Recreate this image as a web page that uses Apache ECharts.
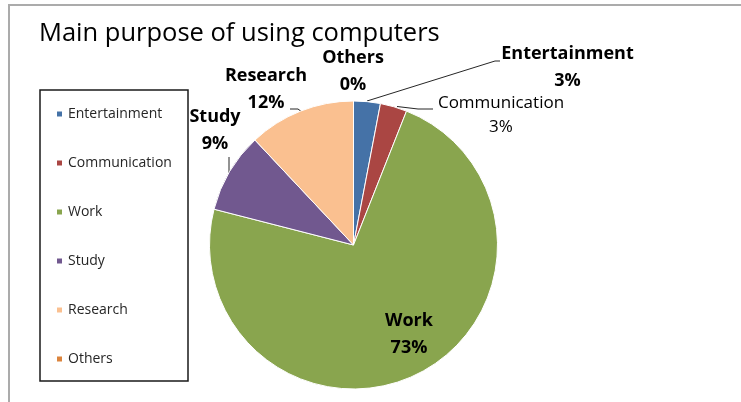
<!DOCTYPE html>
<html>
<head>
<meta charset="utf-8">
<script src="https://cdn.jsdelivr.net/npm/echarts@6/dist/echarts.min.js"></script>
<style>
html,body{margin:0;padding:0;background:#fff;}
#chart{width:741px;height:402px;}
</style>
</head>
<body>
<div id="chart"></div>
<script>
// ---- data ----
var categories = ['Entertainment', 'Communication', 'Work', 'Study', 'Research', 'Others'];
var shares = [3, 3, 73, 9, 12, 0];
var colors = ['#4572A7', '#AA4643', '#89A54E', '#71588F', '#FAC090', '#DB843D'];
var titleText = 'Main purpose of using computers';

// ---- label placement (layout only) ----
var labelPos = {
  'Entertainment': { x: 567.5, y: 67.5, line: [[367, 101], [495, 61], [500, 61]] },
  'Communication': { x: 501, y: 115, line: [[397, 106.5], [418, 109], [433, 109]] },
  'Work':          { x: 409, y: 334.5 },
  'Study':         { x: 215, y: 130.5, line: [[229, 175], [229, 165], [229, 157]] },
  'Research':      { x: 266, y: 89, line: [[302, 112], [298, 109], [290, 109]] },
  'Others':        { x: 353, y: 71.5 }
};
var labelStyle = {
  'Communication': { fontWeight: 'normal', fontSize: 17, lineHeight: 24 },
  'Work': { lineHeight: 27.5 }
};

var FONT = '"Open Sans", "DejaVu Sans", sans-serif';

var pieData = categories.map(function (name, i) {
  var item = { name: name, value: shares[i], itemStyle: { color: colors[i] } };
  if (labelStyle[name]) item.label = labelStyle[name];
  if (!labelPos[name].line) item.labelLine = { show: false };
  return item;
});

var chart = echarts.init(document.getElementById('chart'), null, { renderer: 'canvas' });
chart.setOption({
  animation: false,
  backgroundColor: '#ffffff',
  title: {
    text: titleText,
    left: 34,
    top: 16,
    textStyle: { fontFamily: FONT, fontSize: 25.5, fontWeight: 'normal', color: '#000' }
  },
  legend: {
    orient: 'vertical',
    left: 55,
    top: 107,
    padding: 0,
    itemWidth: 7,
    itemHeight: 7,
    itemGap: 35,
    icon: 'rect',
    selectedMode: false,
    data: categories,
    textStyle: { fontFamily: FONT, fontSize: 14, lineHeight: 14, color: '#262626' }
  },
  graphic: [
    { type: 'rect', silent: true, shape: { x: 9, y: 5, width: 900, height: 600 },
      style: { fill: 'none', stroke: '#ababab', lineWidth: 2 } },
    { type: 'rect', silent: true, shape: { x: 40, y: 90, width: 148, height: 291 },
      style: { fill: 'none', stroke: '#1a1a1a', lineWidth: 1.5 } }
  ],
  series: [{
    type: 'pie',
    center: [353.5, 245],
    radius: 144,
    startAngle: 90,
    clockwise: true,
    avoidLabelOverlap: false,
    minShowLabelAngle: 0,
    stillShowZeroSum: true,
    itemStyle: { borderColor: '#ffffff', borderWidth: 1 },
    emphasis: { disabled: true },
    label: {
      show: true,
      position: 'outside',
      align: 'center',
      verticalAlign: 'middle',
      fontFamily: FONT,
      fontSize: 18,
      fontWeight: 'bold',
      lineHeight: 27,
      color: '#000',
      formatter: function (p) { return p.name + '\n' + Math.round(p.percent) + '%'; }
    },
    labelLine: { show: true, lineStyle: { color: '#262626', width: 1 } },
    labelLayout: function (params) {
      var name = categories[params.dataIndex];
      var pos = labelPos[name];
      var out = { x: pos.x, y: pos.y, align: 'center', verticalAlign: 'middle', hideOverlap: false, moveOverlap: null };
      if (pos.line) out.labelLinePoints = pos.line;
      return out;
    },
    data: pieData
  }]
});
</script>
</body>
</html>
